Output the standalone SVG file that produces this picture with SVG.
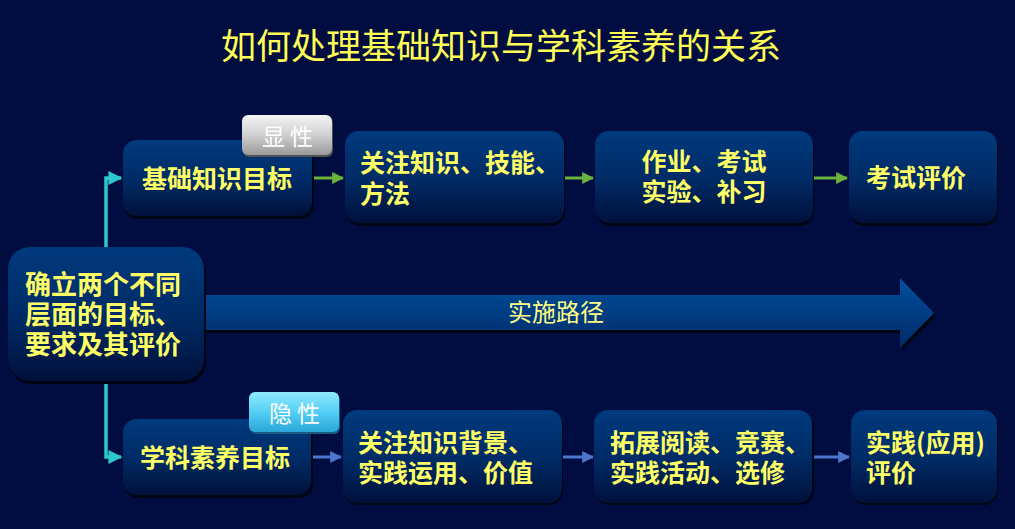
<svg xmlns="http://www.w3.org/2000/svg" width="1015" height="529" viewBox="0 0 1015 529">
<defs>
<linearGradient id="boxg" x1="0" y1="0" x2="0" y2="1">
<stop offset="0" stop-color="#003a7e"/>
<stop offset="0.55" stop-color="#002a64"/>
<stop offset="1" stop-color="#00103a"/>
</linearGradient>
<linearGradient id="arrg" x1="0" y1="0" x2="0" y2="1">
<stop offset="0" stop-color="#00509c"/>
<stop offset="1" stop-color="#002a68"/>
</linearGradient>
<linearGradient id="grayg" x1="0" y1="0" x2="0" y2="1">
<stop offset="0" stop-color="#f4f4f4"/>
<stop offset="0.5" stop-color="#d0d0d0"/>
<stop offset="1" stop-color="#9a9a9a"/>
</linearGradient>
<linearGradient id="cyang" x1="0" y1="0" x2="0" y2="1">
<stop offset="0" stop-color="#8eeaff"/>
<stop offset="0.5" stop-color="#55cff5"/>
<stop offset="1" stop-color="#2aa6d8"/>
</linearGradient>
<marker id="mc" viewBox="0 0 10 10" refX="9" refY="5" markerWidth="4" markerHeight="4" orient="auto" markerUnits="strokeWidth"><path d="M0,0 L10,5 L0,10 z" fill="#2ec8cc"/></marker>
<marker id="mg" viewBox="0 0 10 10" refX="9" refY="5" markerWidth="4" markerHeight="4" orient="auto" markerUnits="strokeWidth"><path d="M0,0 L10,5 L0,10 z" fill="#6ab43e"/></marker>
<marker id="mb" viewBox="0 0 10 10" refX="9" refY="5" markerWidth="4" markerHeight="4" orient="auto" markerUnits="strokeWidth"><path d="M0,0 L10,5 L0,10 z" fill="#4a76cc"/></marker>
</defs>
<style>
.box{fill:url(#boxg);}
.sh{fill:#000514;}
.t{font-family:"Noto Sans CJK SC","Noto Sans",sans-serif;font-weight:bold;font-size:25px;fill:#ffff66;}
.tl{font-family:"Noto Sans CJK SC","Noto Sans",sans-serif;font-weight:bold;font-size:26px;fill:#ffff66;}
.badge{font-family:"Noto Sans CJK SC","Noto Sans",sans-serif;font-size:23px;fill:#ffffff;letter-spacing:5px;}
.cy{stroke:#2ec8cc;stroke-width:3.5;fill:none;}
.gr{stroke:#6ab43e;stroke-width:3;fill:none;}
.bl{stroke:#4a76cc;stroke-width:3;fill:none;}
</style>
<rect x="0" y="0" width="1015" height="529" fill="#010d40"/>
<text x="501" y="59" text-anchor="middle" font-family="Noto Sans CJK SC,Noto Sans,sans-serif" font-size="35" fill="#ffff55">如何处理基础知识与学科素养的关系</text>

<g id="path-arrow">
<polygon points="206,298 902,298 902,281 936,316 902,351 902,333 206,333" fill="#000514"/>
<polygon points="204,295 900,295 900,278 934,313 900,348 900,330 204,330" fill="url(#arrg)"/>
<text x="556" y="321" text-anchor="middle" font-family="Noto Sans CJK SC,Noto Sans,sans-serif" font-size="24" fill="#ffff88">实施路径</text>
</g>

<g id="connectors">
<path class="cy" d="M106,247 V178 H121" marker-end="url(#mc)"/>
<path class="cy" d="M106,381 V457 H121" marker-end="url(#mc)"/>
<path class="gr" d="M313,178 H343" marker-end="url(#mg)"/>
<path class="gr" d="M564,178 H593" marker-end="url(#mg)"/>
<path class="gr" d="M813,178 H847" marker-end="url(#mg)"/>
<path class="bl" d="M312,457 H341" marker-end="url(#mb)"/>
<path class="bl" d="M563,457 H593" marker-end="url(#mb)"/>
<path class="bl" d="M813,457 H849" marker-end="url(#mb)"/>
</g>

<g id="n-root">
<rect class="sh" x="9" y="249" width="197" height="135" rx="22"/>
<rect class="box" x="8" y="247" width="196" height="134" rx="22"/>
<text class="tl"><tspan x="25" y="294">确立两个不同</tspan><tspan x="25" y="324">层面的目标、</tspan><tspan x="25" y="354">要求及其评价</tspan></text>
</g>

<g id="n-basic">
<rect class="sh" x="124" y="142" width="190" height="77" rx="14"/>
<rect class="box" x="123" y="140" width="189" height="76" rx="14"/>
<text class="t" x="217" y="188" text-anchor="middle">基础知识目标</text>
</g>
<g id="badge-explicit">
<rect x="243" y="117" width="90" height="40" rx="6" fill="#505050"/>
<rect x="242" y="115" width="90" height="40" rx="6" fill="url(#grayg)"/>
<text class="badge" x="290" y="145" text-anchor="middle">显性</text>
</g>

<g id="n-t2">
<rect class="sh" x="346" y="133" width="219" height="93" rx="14"/>
<rect class="box" x="345" y="131" width="219" height="92" rx="14"/>
<text class="t"><tspan x="360" y="172">关注知识、技能、</tspan><tspan x="360" y="203">方法</tspan></text>
</g>
<g id="n-t3">
<rect class="sh" x="596" y="133" width="218" height="93" rx="14"/>
<rect class="box" x="595" y="131" width="218" height="92" rx="14"/>
<text class="t" text-anchor="middle"><tspan x="704" y="171">作业、考试</tspan><tspan x="704" y="201">实验、补习</tspan></text>
</g>
<g id="n-t4">
<rect class="sh" x="850" y="133" width="148" height="93" rx="14"/>
<rect class="box" x="849" y="131" width="148" height="92" rx="14"/>
<text class="t" x="916" y="187" text-anchor="middle">考试评价</text>
</g>

<g id="n-literacy">
<rect class="sh" x="124" y="421" width="189" height="77" rx="14"/>
<rect class="box" x="123" y="419" width="188" height="76" rx="14"/>
<text class="t" x="215" y="467" text-anchor="middle">学科素养目标</text>
</g>
<g id="badge-implicit">
<rect x="250" y="394" width="90" height="40" rx="6" fill="#1a5a80"/>
<rect x="249" y="392" width="90" height="40" rx="6" fill="url(#cyang)"/>
<text class="badge" x="297" y="422" text-anchor="middle">隐性</text>
</g>

<g id="n-b2">
<rect class="sh" x="344" y="412" width="219" height="93" rx="14"/>
<rect class="box" x="343" y="410" width="219" height="93" rx="14"/>
<text class="t"><tspan x="358" y="452">关注知识背景、</tspan><tspan x="358" y="482">实践运用、价值</tspan></text>
</g>
<g id="n-b3">
<rect class="sh" x="595" y="412" width="219" height="93" rx="14"/>
<rect class="box" x="594" y="410" width="218" height="93" rx="14"/>
<text class="t"><tspan x="610" y="452">拓展阅读、竞赛、</tspan><tspan x="610" y="482">实践活动、选修</tspan></text>
</g>
<g id="n-b4">
<rect class="sh" x="852" y="412" width="146" height="93" rx="14"/>
<rect class="box" x="851" y="410" width="146" height="93" rx="14"/>
<text class="t"><tspan x="866" y="452">实践(应用)</tspan><tspan x="866" y="482">评价</tspan></text>
</g>
</svg>
